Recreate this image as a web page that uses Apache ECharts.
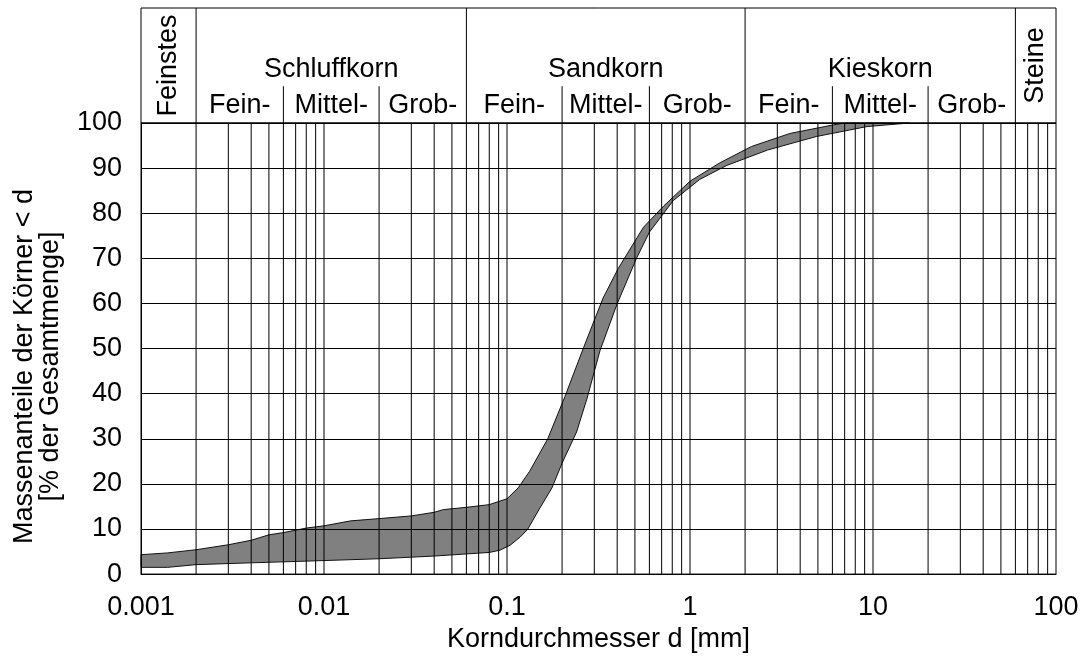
<!DOCTYPE html>
<html><head><meta charset="utf-8">
<script src="https://cdn.jsdelivr.net/npm/echarts@6/dist/echarts.min.js"></script>
<style>html,body{margin:0;padding:0;background:#fff}#c{width:1084px;height:658px}</style>
</head><body><div id="c"></div>
<script>
// ---- data ----
const xTickLabels = ['0.001', '0.01', '0.1', '1', '10', '100'];
const upperD = [0.001, 0.0014, 0.002, 0.003, 0.004, 0.005, 0.006, 0.008, 0.01, 0.014, 0.02, 0.03, 0.04, 0.045, 0.06, 0.08, 0.1, 0.115, 0.133, 0.167, 0.207, 0.262, 0.335, 0.406, 0.557, 0.718, 1.0, 1.46, 2.17, 3.53, 6.1, 7.0, 15.8];
const upperP = [4.3, 4.7, 5.4, 6.5, 7.5, 8.7, 9.2, 10.2, 10.7, 11.8, 12.3, 12.9, 13.7, 14.3, 14.8, 15.4, 16.7, 19.1, 22.8, 30.0, 39.3, 50.2, 61.2, 67.8, 76.9, 81.6, 87.1, 91.2, 94.8, 97.7, 99.6, 100, 100];
const lowerD = [0.001, 0.0014, 0.002, 0.004, 0.01, 0.02, 0.04, 0.08, 0.0915, 0.104, 0.118, 0.13, 0.15, 0.176, 0.2, 0.24, 0.274, 0.322, 0.398, 0.51, 0.6, 0.81, 1.13, 1.59, 2.65, 4.9, 9.26, 15.8];
const lowerP = [1.5, 1.5, 2.1, 2.5, 3.0, 3.4, 4.0, 4.8, 5.3, 6.4, 8.2, 10.0, 14.4, 19.1, 24.6, 31.5, 39.0, 49.5, 59.7, 70.0, 75.8, 82.8, 87.5, 90.6, 94.0, 97.0, 99.2, 100];
const classBounds = [0.001, 0.002, 0.06, 2, 60, 100];
const classNames = ['Feinstes', 'Schluffkorn', 'Sandkorn', 'Kieskorn', 'Steine'];
const subBounds = [0.002, 0.006, 0.02, 0.06, 0.2, 0.6, 2, 6, 20, 60];
const subNames = ['Fein-', 'Mittel-', 'Grob-', 'Fein-', 'Mittel-', 'Grob-', 'Fein-', 'Mittel-', 'Grob-'];
const decades = [0.001, 0.01, 0.1, 1, 10];
const yTitle = 'Massenanteile der Körner < d\n[% der Gesamtmenge]';
const xTitle = 'Korndurchmesser d [mm]';

// ---- build ----
const FONT = '"Liberation Sans", Arial, sans-serif';
const FS = 27;
const vLines = [];
decades.forEach(d => { for (let m = 1; m <= 9; m++) { const v = +(d * m).toPrecision(6); if (v > 0.001) vLines.push([v, 0]); } });
const mainDiv = classBounds.slice(1, -1).map(d => [d, 0, 1]);
const subDiv = [0.006, 0.02, 0.2, 0.6, 6, 20].map(d => [d, 0, 0.32]);
const headerLabels = [];
classNames.forEach((n, i) => {
  const d = Math.sqrt(classBounds[i] * classBounds[i + 1]);
  const rot = (i === 0 || i === classNames.length - 1);
  headerLabels.push({ value: [d, rot ? 0.5 : 0.465], name: n, rot: rot });
});
subNames.forEach((n, i) => {
  const d = Math.sqrt(subBounds[i] * subBounds[i + 1]);
  headerLabels.push({ value: [d, 0.148], name: n, rot: false });
});

const chart = echarts.init(document.getElementById('c'));
const lineItem = (y0key, y1key) => function (params, api) {
  const d = api.value(0);
  const p0 = api.coord([d, y0key === null ? api.value(1) : y0key]);
  const p1 = api.coord([d, y1key === null ? api.value(2) : y1key]);
  return { type: 'line', shape: { x1: p0[0], y1: p0[1], x2: p1[0], y2: p1[1] }, style: { stroke: '#000', lineWidth: 1 } };
};

chart.setOption({
  animation: false,
  backgroundColor: '#fff',
  grid: [
    { left: 141, right: 28, top: 123, bottom: 79, show: true, borderColor: '#000', borderWidth: 1, backgroundColor: 'transparent' },
    { left: 141, right: 28, top: 8, height: 115, show: true, borderColor: '#000', borderWidth: 1, backgroundColor: 'transparent' }
  ],
  xAxis: [
    { type: 'log', gridIndex: 0, min: 0.001, max: 100, logBase: 10,
      axisLine: { show: true, lineStyle: { color: '#000' } }, axisTick: { show: false },
      splitLine: { show: false },
      axisLabel: { color: '#000', fontSize: FS, fontFamily: FONT, margin: 20,
        formatter: v => xTickLabels[Math.round(Math.log10(v)) + 3] },
      name: xTitle, nameLocation: 'middle', nameGap: 48,
      nameTextStyle: { color: '#000', fontSize: FS, fontFamily: FONT } },
    { type: 'log', gridIndex: 1, min: 0.001, max: 100, logBase: 10, show: false }
  ],
  yAxis: [
    { type: 'value', gridIndex: 0, min: 0, max: 100, interval: 10, z: 3,
      axisLine: { show: true, lineStyle: { color: '#000' } }, axisTick: { show: false },
      splitLine: { show: true, lineStyle: { color: '#000', width: 1 } },
      axisLabel: { color: '#000', fontSize: FS, fontFamily: FONT, margin: 19 },
      name: yTitle, nameLocation: 'middle', nameGap: 77, nameRotate: 90,
      nameTextStyle: { color: '#000', fontSize: FS, fontFamily: FONT, lineHeight: 26, padding: [0, 36, 0, 0] } },
    { type: 'value', gridIndex: 1, min: 0, max: 1, show: false }
  ],
  series: [
    { type: 'custom', xAxisIndex: 0, yAxisIndex: 0, z: 1, data: [[0.01, 50]], silent: true,
      renderItem: function (params, api) {
        const pts = upperD.map((d, i) => api.coord([d, upperP[i]]))
          .concat(lowerD.map((d, i) => api.coord([d, lowerP[i]])).reverse());
        return { type: 'polygon', shape: { points: pts }, style: { fill: '#808080', stroke: '#111', lineWidth: 1 } };
      } },
    { type: 'custom', xAxisIndex: 0, yAxisIndex: 0, z: 4, data: vLines, silent: true,
      renderItem: lineItem(0, 100) },
    { type: 'custom', xAxisIndex: 1, yAxisIndex: 1, z: 4, data: mainDiv, silent: true,
      renderItem: lineItem(null, null) },
    { type: 'custom', xAxisIndex: 1, yAxisIndex: 1, z: 4, data: subDiv, silent: true,
      renderItem: lineItem(null, null) },
    { type: 'custom', xAxisIndex: 1, yAxisIndex: 1, z: 5, silent: true,
      data: headerLabels.map(h => h.value),
      renderItem: function (params, api) {
        const h = headerLabels[params.dataIndex];
        const p = api.coord([api.value(0), api.value(1)]);
        return { type: 'text', x: p[0], y: p[1], rotation: h.rot ? Math.PI / 2 : 0,
          style: { text: h.name, fontSize: FS, fontFamily: FONT, fill: '#000', align: 'center', verticalAlign: 'middle' } };
      } }
  ]
});
</script></body></html>
